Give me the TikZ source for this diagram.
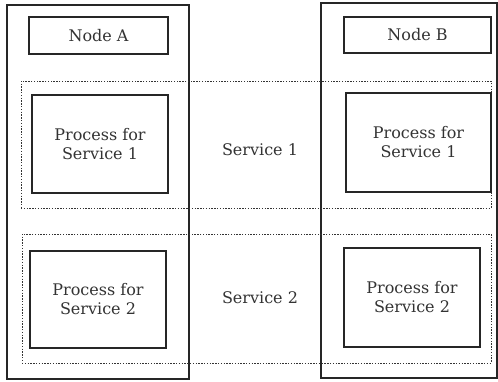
\documentclass[tikz,border=0pt]{standalone}
\usepackage{fontspec}
\setmainfont{DejaVu Serif}
\begin{document}
\begin{tikzpicture}[x=1pt,y=-1pt,
  box/.style={draw=black!85, line width=1.2pt, inner sep=0pt},
  hostbox/.style={box, line width=1.1pt},
  groupbox/.style={draw=black!80, line width=1pt, dash pattern=on 1.4pt off 1.4pt, inner sep=0pt},
  txt/.style={font=\fontsize{16}{19}\selectfont, text=black!80, align=center}]
\useasboundingbox (0,0) rectangle (498,381);
% hosts
\node[hostbox, minimum width=182pt, minimum height=374pt] (hostA) at (98,192) {};
\node[hostbox, minimum width=176pt, minimum height=375pt] (hostB) at (409,190.5) {};
\node[box, minimum width=139pt, minimum height=37pt, txt] (labA) at (98.5,35.5) {Node A};
\node[box, minimum width=147pt, minimum height=36pt, txt] (labB) at (417.5,35) {Node B};
% service groups
\node[groupbox, minimum width=470pt, minimum height=127pt] (svc1) at (256,144.5) {};
\node[groupbox, minimum width=469pt, minimum height=129pt] (svc2) at (256.5,298.5) {};
\node[txt] (svc1lab) at (260,150) {Service 1};
\node[txt] (svc2lab) at (260,298) {Service 2};
% processes
\node[box, minimum width=136pt, minimum height=98pt, txt] (pA1) at (100,144) {Process for\\Service 1};
\node[box, minimum width=145pt, minimum height=99pt, txt] (pB1) at (418.5,142.5) {Process for\\Service 1};
\node[box, minimum width=136pt, minimum height=97pt, txt] (pA2) at (98,299.5) {Process for\\Service 2};
\node[box, minimum width=136pt, minimum height=99pt, txt] (pB2) at (412,297.5) {Process for\\Service 2};
\end{tikzpicture}
\end{document}
